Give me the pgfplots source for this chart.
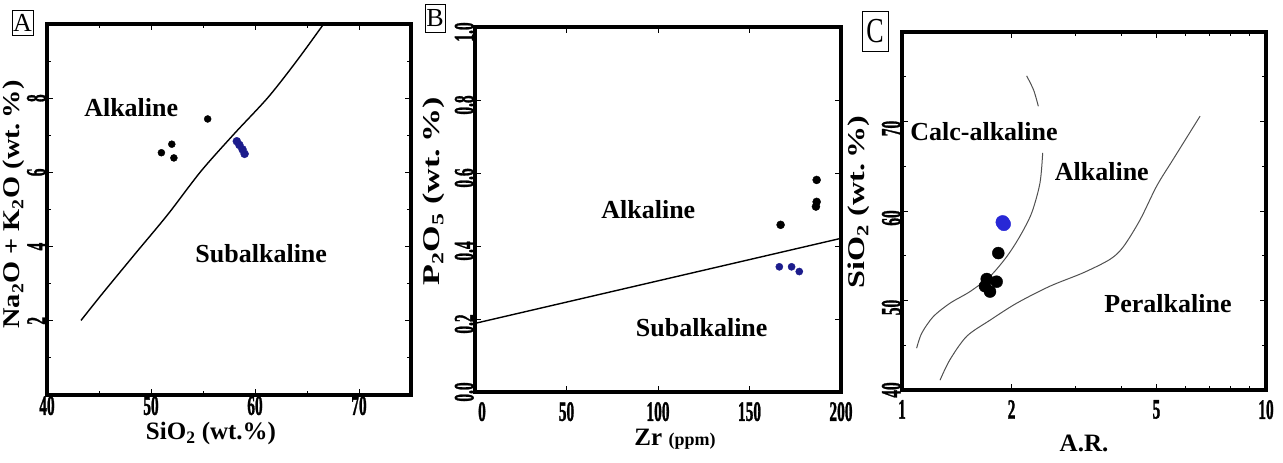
\documentclass[border=0pt]{standalone}
\usepackage{pgfplots}
\pgfplotsset{compat=1.18}
\usepackage{fontspec}
\setmainfont{Liberation Serif}
\newfontfamily\tickfam{Liberation Serif}[FakeBold=1.6]
\usepackage{graphicx}

\definecolor{navy}{HTML}{1C1C8C}
\definecolor{vivid}{HTML}{2828D6}
\definecolor{curve}{HTML}{505050}

% condensed heavy tick numbers
\newcommand\tk[1]{\scalebox{0.55}[1]{\fontsize{28}{28}\tickfam\bfseries #1}}
\newcommand\fieldfont{\fontsize{26}{28}\selectfont\bfseries}
\newcommand\titlefont{\fontsize{25}{27}\selectfont\bfseries}
\newcommand\ytitle[2]{\scalebox{#1}[1]{\fontsize{24}{26}\selectfont\bfseries #2}}

\pgfplotsset{
  panel/.style={
    scale only axis,
    anchor=south west,
    axis line style={line width=3.5pt},
    tick align=inside,
    major tick length=6pt,
    minor tick length=4pt,
    tick style={black, line width=0.8pt},
    xticklabel style={inner sep=1pt, anchor=north},
    yticklabel style={rotate=90, anchor=south, inner sep=1pt},
  },
  blackdot/.style={only marks, mark=*, mark options={fill=black, draw=black}},
}

\begin{document}
\begin{tikzpicture}
\useasboundingbox (0,0) rectangle (1283pt,463pt);

% ---------------- A: total alkali vs silica ----------------
\begin{axis}[panel,
  at={(47pt,68pt)}, width=364pt, height=371pt,
  xmin=40, xmax=75, ymin=0, ymax=10,
  xtick={40,50,60,70}, minor xtick={45,55,65},
  xticklabels={\tk{40},\tk{50},\raisebox{-12pt}{\tk{60}},\tk{70}},
  ytick={2,4,6,8}, minor ytick={1,3,5,7,9},
  yticklabels={\tk{2},\tk{4},\tk{6},\tk{8}},
  xlabel={\titlefont SiO\textsubscript{2} (wt.\%)},
  xlabel style={at={([xshift=-18pt,yshift=-27pt]axis description cs:0.5,0)}, anchor=north, inner sep=0pt},
  ylabel={\ytitle{1.18}{Na\textsubscript{2}O + K\textsubscript{2}O (wt.\,\%)}},
  ylabel style={at={([xshift=-22pt,yshift=5pt]axis description cs:0,0.5)}, anchor=south, inner sep=0pt},
]
\addplot[black, line width=1.4pt, smooth] coordinates {
  (43.27,2.01) (45.2,2.69) (48.4,3.78) (51.6,4.86) (54.8,6.03)
  (58.0,7.04) (61.25,8.02) (64.0,9.0) (66.6,10.0)};
\addplot[blackdot, mark size=3.5pt] coordinates {
  (55.45,7.44) (52.0,6.76) (51.0,6.53) (52.2,6.39)};
\addplot[only marks, mark=*, mark size=4pt, mark options={fill=navy, draw=navy}] coordinates {
  (58.25,6.84) (58.5,6.74) (58.8,6.62) (59.0,6.5)};
\node[font=\fieldfont] at (axis cs:48.1,7.74) {Alkaline};
\node[font=\fieldfont] at (axis cs:60.6,3.8) {Subalkaline};
\end{axis}

% ---------------- B: P2O5 vs Zr ----------------
\begin{axis}[panel,
  at={(475pt,71pt)}, width=366pt, height=365pt,
  xmin=0, xmax=200, ymin=0, ymax=1,
  xtick={0,50,100,150,200},
  xticklabels={\hspace{14pt}\tk{0},\tk{50},\tk{100},\tk{150},\tk{200}\hspace{14pt}},
  xticklabel style={yshift=-9pt},
  ytick={0,0.2,0.4,0.6,0.8,1.0},
  yticklabels={\hspace{10pt}\tk{0.0},\tk{0.2}\hspace{14pt},\tk{0.4}\hspace{14pt},
               \tk{0.6}\hspace{14pt},\tk{0.8}\hspace{14pt},\tk{1.0}\hspace{6pt}},
  yticklabel style={xshift=-5pt},
  xlabel={\fontsize{25}{27}\selectfont\bfseries Zr {\fontsize{18}{20}\selectfont(ppm)}},
  xlabel style={at={([xshift=17pt,yshift=-37pt]axis description cs:0.5,0)}, anchor=north, inner sep=0pt},
  ylabel={\ytitle{1.42}{P\textsubscript{2}O\textsubscript{5} (wt.\,\%)}},
  ylabel style={at={([xshift=-30pt,yshift=18pt]axis description cs:0,0.5)}, anchor=south, inner sep=0pt},
]
\addplot[black, line width=1.4pt] coordinates {(0,0.188) (200,0.421)};
\addplot[blackdot, mark size=4pt] coordinates {
  (186.7,0.581) (186.7,0.521) (186.3,0.508) (167,0.458)};
\addplot[only marks, mark=*, mark size=3.6pt, mark options={fill=navy, draw=navy}] coordinates {
  (166.3,0.343) (173,0.343) (177.2,0.330)};
\node[font=\fieldfont] at (axis cs:94.7,0.499) {Alkaline};
\node[font=\fieldfont] at (axis cs:123.9,0.175) {Subalkaline};
\end{axis}

% ---------------- C: SiO2 vs alkalinity ratio ----------------
\begin{axis}[panel,
  at={(902pt,73pt)}, width=364pt, height=358pt,
  xmode=log, log basis x=10,
  xmin=1, xmax=10, ymin=40, ymax=80,
  xtick={1,2,5,10}, minor xtick={3,4,6,7,8,9},
  xticklabels={\tk{1},\tk{2},\tk{5},\tk{10}},
  xticklabel style={yshift=-9pt},
  ytick={40,50,60,70}, minor ytick={45,55,65,75},
  yticklabels={\hspace{14pt}\tk{40},\tk{50},\tk{60},\tk{70}},
  yticklabel style={xshift=-7pt},
  xlabel={\titlefont A.R.},
  xlabel style={at={([yshift=-45pt]axis description cs:0.5,0)}, anchor=north, inner sep=0pt},
  ylabel={\ytitle{1.34}{SiO\textsubscript{2} (wt.\,\%)}},
  ylabel style={at={([xshift=-32pt,yshift=9pt]axis description cs:0,0.5)}, anchor=south, inner sep=0pt},
]
\addplot[curve, line width=1pt, smooth] coordinates {
  (1.097,44.67) (1.133,46.35) (1.219,48.2) (1.355,49.7) (1.538,51.0)
  (1.745,52.7) (1.94,54.9) (2.11,57.2) (2.272,59.8) (2.394,63.15) (2.435,66.5)};
\addplot[curve, line width=1pt, smooth] coordinates {
  (2.369,71.7) (2.30,73.5) (2.20,75.1)};
\addplot[curve, line width=1pt, smooth] coordinates {
  (1.272,41.1) (1.355,43.4) (1.506,46.0) (1.745,47.8) (2.066,49.7)
  (2.55,51.6) (3.148,53.1) (3.728,54.6) (4.055,56.0) (4.507,59.0)
  (5.01,62.8) (5.564,65.8) (6.59,70.6)};
\addplot[blackdot, mark size=6pt] coordinates {
  (1.839,55.3) (1.709,52.4) (1.820,52.1) (1.690,51.6) (1.745,51.0)};
\addplot[only marks, mark=*, mark size=6.8pt, mark options={fill=vivid, draw=vivid}] coordinates {
  (1.89,58.75) (1.905,58.55)};
\node[font=\fieldfont] at (axis cs:1.68,68.9) {Calc-alkaline};
\node[font=\fieldfont] at (axis cs:3.54,64.4) {Alkaline};
\node[font=\fieldfont] at (axis cs:5.38,49.7) {Peralkaline};
\end{axis}

% panel letters
\node[draw, line width=0.6pt, inner sep=0pt, minimum width=21pt, minimum height=25pt,
      font=\fontsize{26}{26}\selectfont] at (22.5pt,440.5pt) {A};
\node[draw, line width=0.6pt, inner sep=0pt, minimum width=20pt, minimum height=28pt,
      font=\fontsize{26}{26}\selectfont] at (435pt,445pt) {B};
\node[draw, line width=0.6pt, inner sep=0pt, minimum width=26pt, minimum height=40pt,
      font=\fontsize{26}{26}\selectfont] at (875pt,432pt) {\scalebox{1}[1.35]{C}};
\end{tikzpicture}
\end{document}
